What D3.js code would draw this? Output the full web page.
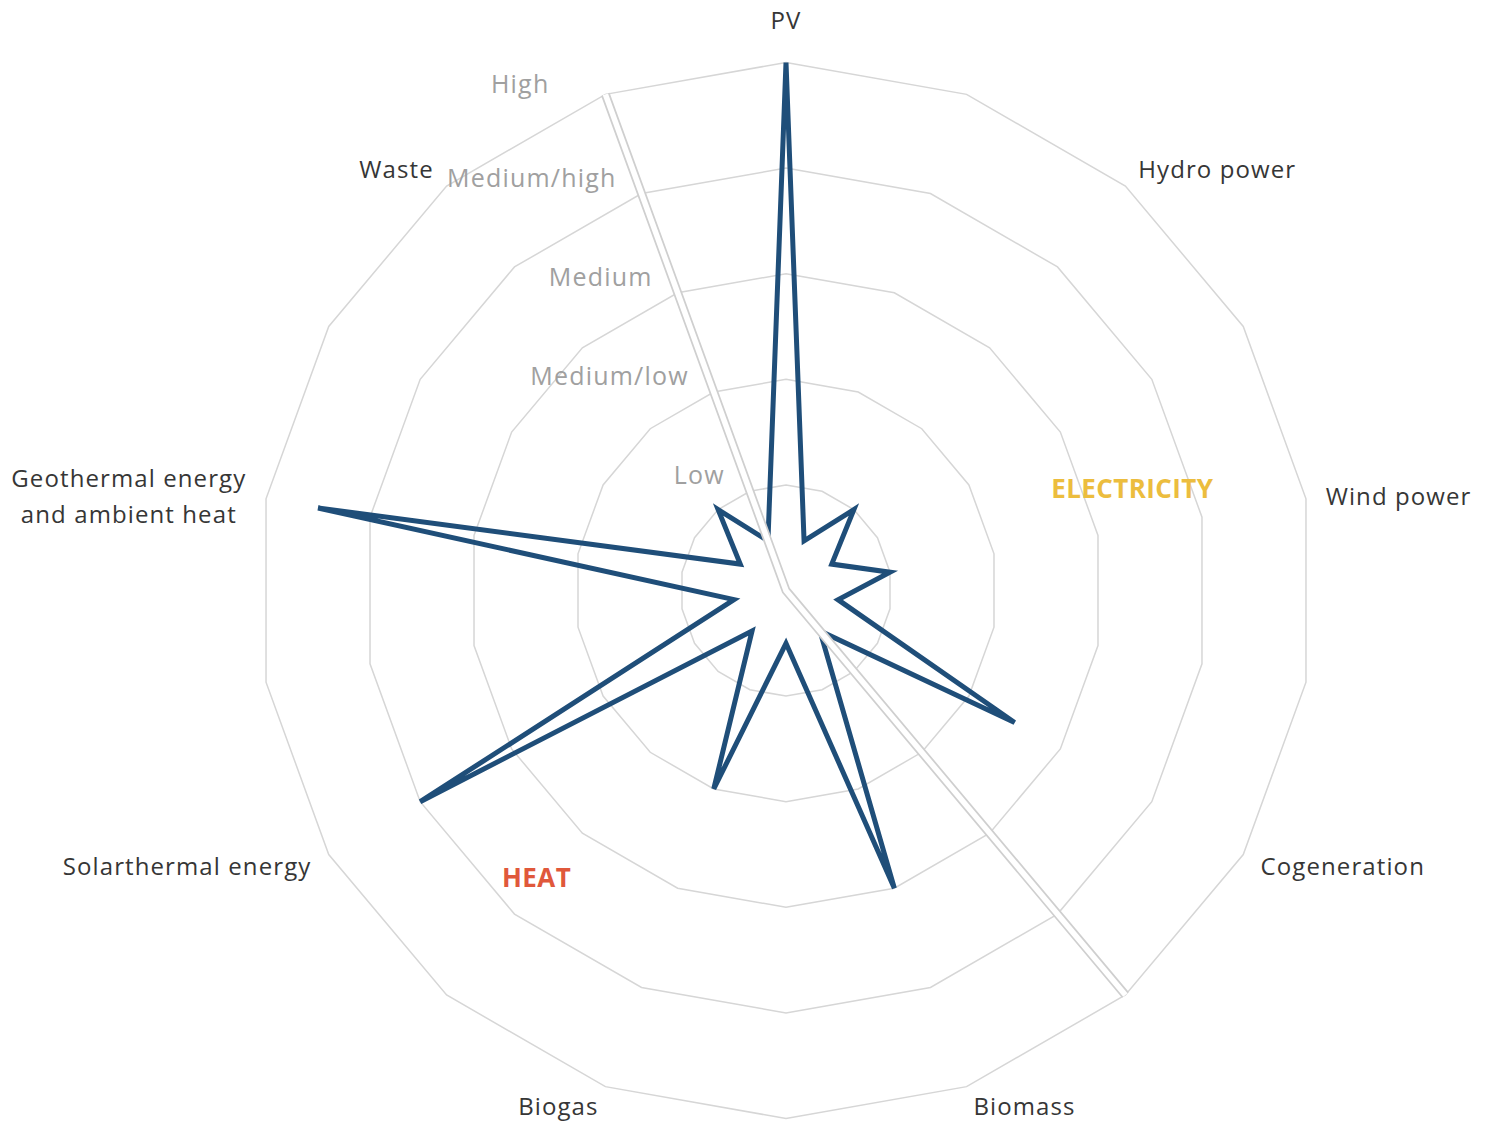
<!DOCTYPE html>
<html><head><meta charset="utf-8">
<script src="https://cdn.jsdelivr.net/npm/d3@7"></script>
<style>body{margin:0;background:#fff}svg{display:block}</style>
</head><body>
<svg id="chart" width="1487" height="1122"></svg>
<script>
// ---- data ----
const categories = ["PV","","Hydro power","","Wind power","","Cogeneration","","Biomass","","Biogas","","Solarthermal energy","","Geothermal energy\nand ambient heat","","Waste",""];
const values = [5,0.5,1,0.5,1,0.5,2.5,0.5,3,0.5,2,0.5,4,0.5,4.5,0.5,1,0.5];
const levelLabels = ["Low","Medium/low","Medium","Medium/high","High"];
const levelValues = [1,2,3,4,5];
const dividerAxes = [17, 0, 7];
const dividerValues = [5, 0, 5];
const sectorLabels = ["ELECTRICITY","HEAT"];

// ---- layout ----
const W = 1487, H = 1122, cx = 786, cy = 590.5, R = 528;
const n = categories.length;
const svg = d3.select("#chart");
svg.append("rect").attr("width",W).attr("height",H).attr("fill","#fff");
const g = svg.append("g").attr("transform",`translate(${cx},${cy})`);
const angle = d3.scaleLinear().domain([0,n]).range([0,2*Math.PI]);
const r = d3.scaleLinear().domain([0,5]).range([0,R]);
const FONT = "'Open Sans', sans-serif";

// rings
const ringLine = lv => d3.lineRadial().angle((d,i)=>angle(i)).radius(()=>r(lv)).curve(d3.curveLinearClosed)(categories);
g.selectAll("path.ring").data(levelValues).join("path").attr("class","ring")
  .attr("d",d=>ringLine(d)).attr("fill","none").attr("stroke","#d6d6d6").attr("stroke-width",1.5);

// series
const seriesLine = d3.lineRadial().angle((d,i)=>angle(i)).radius(d=>r(d)).curve(d3.curveLinearClosed);
g.append("path").attr("d",seriesLine(values)).attr("fill","none")
  .attr("stroke","#1F4E79").attr("stroke-width",5).attr("stroke-linejoin","miter");

// divider
const divPts = dividerAxes.map((a,i)=>({a, v:dividerValues[i]}));
const divLine = d3.lineRadial().angle(d=>angle(d.a)).radius(d=>r(d.v));
g.append("path").attr("d",divLine(divPts)).attr("fill","none").attr("stroke","#cfcfcf").attr("stroke-width",9);
g.append("path").attr("d",divLine(divPts)).attr("fill","none").attr("stroke","#fff").attr("stroke-width",5.5);

// category labels
categories.forEach((c,i)=>{
  if(!c) return;
  const a = angle(i), rr = R+20;
  let x = rr*Math.sin(a), y = -rr*Math.cos(a);
  const s = Math.sin(a);
  let anchor = s>0.1?"start":(s<-0.1?"end":"middle");
  if(Math.cos(a)>0.9) y -= 24;
  else if(Math.cos(a)>0.5) y -= 3;
  const lines = c.split("\n");
  const lh = 36;
  const t = g.append("text").attr("font-family",FONT).attr("font-size",24).attr("fill","#363636")
    .attr("letter-spacing","1.1px").attr("dominant-baseline","central");
  lines.forEach((ln,j)=>t.append("tspan").attr("x",x).attr("y",y+(j-(lines.length-1)/2)*lh).text(ln));
  if(lines.length>1){
    const wmax = d3.max(t.selectAll("tspan").nodes(), nd=>nd.getComputedTextLength());
    const xc = anchor==="end"? x-wmax/2 : anchor==="start"? x+wmax/2 : x;
    t.attr("text-anchor","middle"); t.selectAll("tspan").attr("x",xc);
  } else t.attr("text-anchor",anchor);
});

// level labels along the divider axis
levelValues.forEach((lv,i)=>{
  const a = angle(17);
  const x = r(lv)*Math.sin(a) + (i===levelValues.length-1 ? -56 : -25);
  const y = -r(lv)*Math.cos(a) - (i===levelValues.length-1 ? 11 : 17);
  g.append("text").attr("x",x).attr("y",y).attr("text-anchor","end").attr("dominant-baseline","central")
    .attr("font-family",FONT).attr("font-size",25).attr("fill","#a0a0a0").attr("letter-spacing","1.2px").text(levelLabels[i]);
});

// sector labels
const sectorPos = [{deg:73.5, v:3.42, color:"#ECBD3E"},{deg:221, v:3.6, color:"#E0583B"}];
sectorLabels.forEach((s,i)=>{
  const p = sectorPos[i], a = p.deg*Math.PI/180;
  g.append("text").attr("x",r(p.v)*Math.sin(a)).attr("y",-r(p.v)*Math.cos(a))
    .attr("text-anchor","middle").attr("dominant-baseline","central")
    .attr("font-family",FONT).attr("font-size",26).attr("font-weight","bold").attr("letter-spacing","0.4px").attr("fill",p.color).text(s);
});
</script>
</body></html>
